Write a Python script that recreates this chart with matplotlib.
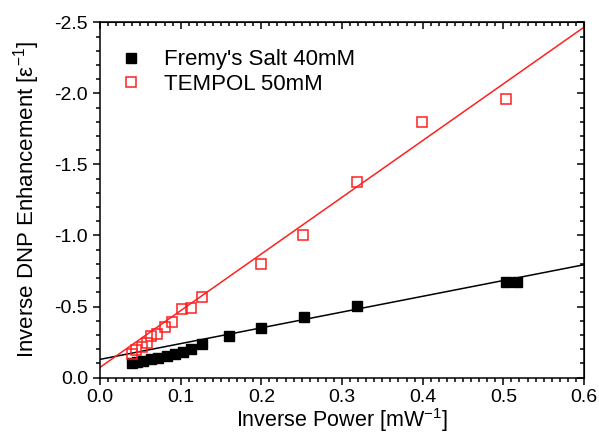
"""
Inverse DNP enhancement vs inverse microwave power for Fremy's salt and TEMPOL.
Writes out.png.
"""
import matplotlib
matplotlib.use("Agg")
import matplotlib.pyplot as plt
import numpy as np
from matplotlib.ticker import MultipleLocator

plt.rcParams.update({"font.family": ["Liberation Sans", "DejaVu Sans"],
                     "mathtext.fontset": "custom", "mathtext.rm": "Liberation Sans",
                     "mathtext.it": "Liberation Sans:italic"})

# Fremy's Salt 40mM
fremy_x = [0.040, 0.046, 0.053, 0.063, 0.072, 0.083, 0.093, 0.103, 0.113, 0.127,
           0.160, 0.200, 0.253, 0.318, 0.503, 0.517]
fremy_y = [-0.100, -0.107, -0.118, -0.130, -0.139, -0.151, -0.165, -0.180, -0.200, -0.236,
           -0.294, -0.346, -0.424, -0.504, -0.670, -0.670]
fremy_fit = (-0.128, -1.11)   # intercept, slope

# TEMPOL 50mM
tempol_x = [0.040, 0.045, 0.052, 0.058, 0.063, 0.071, 0.080, 0.089, 0.101, 0.113, 0.127,
            0.200, 0.252, 0.318, 0.399, 0.503]
tempol_y = [-0.165, -0.194, -0.217, -0.245, -0.292, -0.304, -0.358, -0.393, -0.480, -0.492, -0.565,
            -0.797, -1.000, -1.377, -1.801, -1.959]
tempol_fit = (-0.072, -3.99)

fit_x = np.array([0.0, 0.6])

fig = plt.figure(figsize=(5.99, 4.38), dpi=100)
ax = fig.add_axes([0.167, 0.138, 0.808, 0.811])

ax.plot(fit_x, fremy_fit[0] + fremy_fit[1] * fit_x, color="black", lw=1.1, zorder=2)
ax.plot(fit_x, tempol_fit[0] + tempol_fit[1] * fit_x, color="#ff2020", lw=1.1, zorder=2)
ax.plot(fremy_x, fremy_y, ls="none", marker="s", ms=7.5, color="black",
        mec="black", label="Fremy's Salt 40mM", zorder=3)
ax.plot(tempol_x, tempol_y, ls="none", marker="s", ms=7.5, mfc="none", mec="#ff2020",
        mew=1.1, label="TEMPOL 50mM", zorder=4)

ax.set_xlim(0, 0.6)
ax.set_ylim(0, -2.5)
ax.xaxis.set_major_locator(MultipleLocator(0.1))
ax.xaxis.set_minor_locator(MultipleLocator(0.01))
ax.yaxis.set_major_locator(MultipleLocator(0.5))
ax.yaxis.set_minor_locator(MultipleLocator(0.1))
ax.xaxis.set_major_formatter(lambda v, p: f"{v:.1f}")
ax.yaxis.set_major_formatter(lambda v, p: f"{v:.1f}".replace("-0.0", "0.0"))
ax.tick_params(which="both", direction="out", labelsize=14, width=1.1)
ax.tick_params(which="major", length=5)
ax.tick_params(which="minor", length=3)
for s in ax.spines.values():
    s.set_linewidth(1.1)

# inward ticks on top and right
top = ax.secondary_xaxis("top")
top.xaxis.set_major_locator(MultipleLocator(0.1))
top.xaxis.set_minor_locator(MultipleLocator(0.01))
top.tick_params(which="both", direction="in", labeltop=False, width=1.1)
top.tick_params(which="major", length=5)
top.tick_params(which="minor", length=3)
right = ax.secondary_yaxis("right")
right.yaxis.set_major_locator(MultipleLocator(0.5))
right.yaxis.set_minor_locator(MultipleLocator(0.1))
right.tick_params(which="both", direction="in", labelright=False, width=1.1)
right.tick_params(which="major", length=5)
right.tick_params(which="minor", length=3)

ax.set_xlabel(r"Inverse Power [mW$^{\mathregular{-1}}$]", fontsize=15.5, labelpad=0)
ax.set_ylabel(r"Inverse DNP Enhancement [$\mathregular{\epsilon}^{\mathregular{-1}}$]",
              fontsize=16, labelpad=9)

ax.legend(loc="upper left", bbox_to_anchor=(0.0, 0.98), frameon=False, fontsize=16,
          handlelength=1.0, handletextpad=1.0, labelspacing=0.15, borderaxespad=0.5)

fig.savefig("out.png", dpi=100)
